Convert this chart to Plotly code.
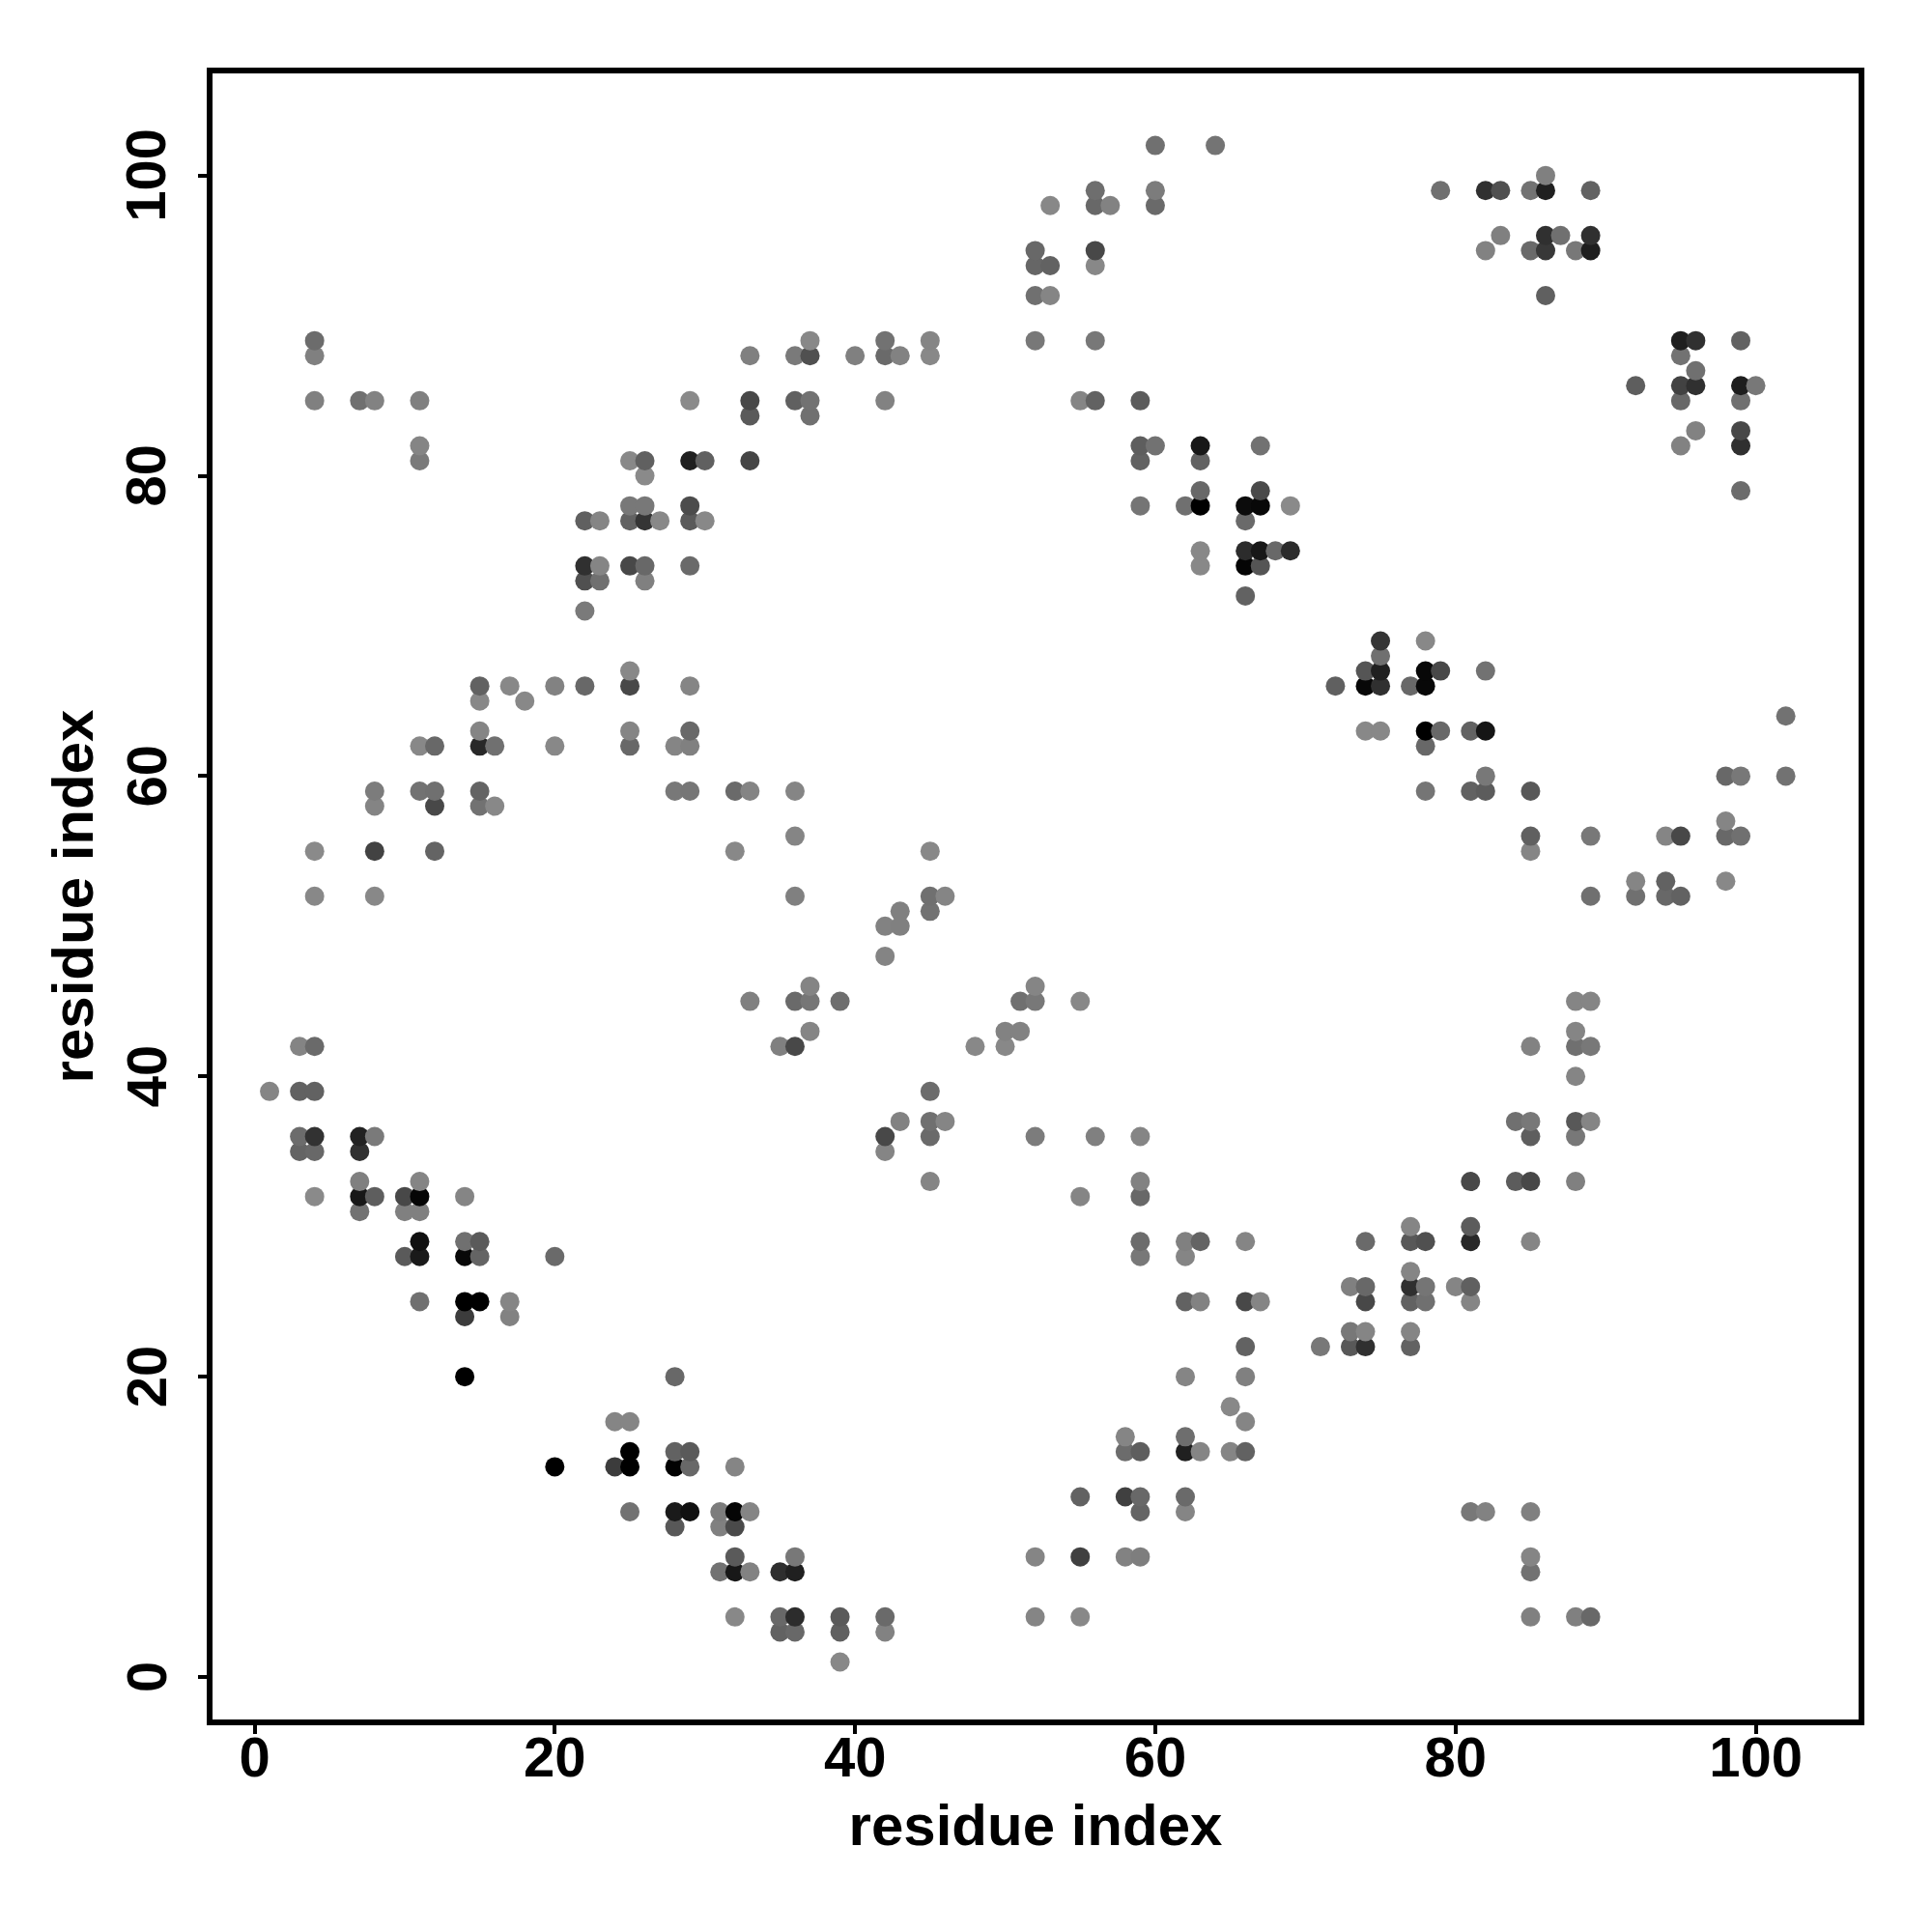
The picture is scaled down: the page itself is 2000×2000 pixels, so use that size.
import plotly.graph_objects as go

# Contact map values
i_upper_left = [4,4,4,7,8,11,11,11,
 22,23,25,26,27,25,26,29,
 29,30,25,26,26,29,30,29,
 33,33,33,33,22,23,22,23,
 25,26,26,29,22]
j_upper_left = [89,88,85,85,85,85,82,81,
 77,77,77,77,77,78,78,78,
 77,77,81,81,80,81,81,85,
 88,85,84,81,74,74,73,73,
 74,74,73,74,71]
g_upper_left = [0x6c,0x80,0x80,0x70,0x82,0x80,0x85,0x7a,
 0x60,0x85,0x62,0x35,0x88,0x78,0x78,0x4c,
 0x5a,0x88,0x88,0x60,0x8a,0x20,0x60,0x8a,
 0x80,0x48,0x5a,0x45,0x30,0x85,0x50,0x70,
 0x48,0x68,0x80,0x6a,0x7a]

i_upper_mid = [60,64,56,56,57,53,60,60,
 52,52,53,56,56,52,53,52,
 56,37,36,37,40,42,42,43,
 45,45,36,37,37,42,55,56,
 59,59,60,59,63,63,67,63,
 67,59,62,63,66,67,69,66,
 63,63,66,67,68,69,66,67,
 66]
j_upper_mid = [102,102,99,98,98,98,99,98,
 95,94,94,95,94,92,92,89,
 89,89,88,88,88,89,88,88,
 89,88,85,85,84,85,85,85,
 85,82,82,81,82,81,82,79,
 79,78,78,78,78,78,78,77,
 75,74,75,75,75,75,74,74,
 72]
g_upper_mid = [0x70,0x74,0x6e,0x68,0x82,0x88,0x7c,0x6a,
 0x68,0x66,0x62,0x48,0x88,0x70,0x85,0x78,
 0x78,0x88,0x7a,0x50,0x80,0x72,0x6a,0x82,
 0x85,0x88,0x60,0x72,0x70,0x82,0x85,0x62,
 0x5c,0x5e,0x72,0x62,0x18,0x62,0x72,0x68,
 0x4a,0x75,0x70,0x00,0x0c,0x08,0x8a,0x6a,
 0x88,0x88,0x2c,0x18,0x68,0x2c,0x05,0x55,
 0x62]

i_upper_right = [79,82,83,85,86,86,89,83,
 82,86,87,89,85,86,88,89,
 86,95,96,99,95,96,92,95,
 96,99,100,95,99,96,95,99,
 99,99]
j_upper_right = [99,99,99,99,99,100,99,96,
 95,96,96,96,95,95,95,95,
 92,89,89,89,88,87,86,86,
 86,86,86,85,85,83,82,83,
 82,79]
g_upper_right = [0x70,0x30,0x50,0x72,0x20,0x80,0x62,0x80,
 0x82,0x30,0x70,0x30,0x6a,0x38,0x78,0x1e,
 0x60,0x1e,0x30,0x62,0x72,0x70,0x5e,0x42,
 0x30,0x1e,0x78,0x68,0x70,0x82,0x82,0x48,
 0x30,0x6c]

i_mid_left = [15,15,17,18,20,22,25,25,
 29,15,11,12,15,16,20,25,
 25,28,29,29,8,8,11,12,
 12,15,15,16,28,29,32,33,
 4,8,12,32,4,8,33,3,
 4,35,1,3,4,3,4,7,
 8,3,4,7]
j_mid_left = [66,65,66,65,66,66,67,66,
 66,63,62,62,62,62,62,63,
 62,62,62,63,59,58,59,59,
 58,59,58,58,59,59,59,59,
 55,55,55,55,52,52,45,42,
 42,42,39,39,39,36,36,36,
 36,35,35,35]
g_mid_left = [0x62,0x88,0x88,0x88,0x82,0x68,0x88,0x48,
 0x85,0x85,0x88,0x68,0x28,0x70,0x88,0x85,
 0x68,0x85,0x80,0x68,0x7c,0x84,0x72,0x70,
 0x48,0x64,0x72,0x88,0x78,0x76,0x6a,0x84,
 0x8a,0x42,0x64,0x88,0x88,0x88,0x80,0x84,
 0x6a,0x80,0x85,0x62,0x62,0x6c,0x32,0x22,
 0x7a,0x64,0x68,0x30]

i_mid_mid = [36,36,45,36,45,46,45,43,
 42,43,42,37,36,37,39,37,
 36,48,50,51,50,52,51,52,
 55,45,43,45,46,42,42,45,
 52,56,59,45,59,59,55]
j_mid_mid = [59,56,55,52,52,52,51,51,
 50,50,48,46,45,45,45,43,
 42,42,43,43,42,46,45,45,
 45,39,37,37,37,36,35,36,
 36,36,36,33,33,32,32]
g_mid_mid = [0x85,0x85,0x88,0x80,0x70,0x85,0x72,0x80,
 0x82,0x80,0x84,0x84,0x6a,0x76,0x6e,0x85,
 0x48,0x88,0x82,0x82,0x88,0x85,0x70,0x78,
 0x88,0x6c,0x82,0x70,0x85,0x48,0x85,0x6a,
 0x7c,0x80,0x85,0x85,0x82,0x68,0x85]

i_mid_right = [75,78,75,74,75,78,79,82,
 72,74,75,77,78,74,75,78,
 79,81,82,78,102,102,98,99,
 82,81,82,78,85,98,98,99,
 85,85,89,94,95,92,92,94,
 94,95,98,89,88,89,88,85,
 88,89,88,84,85,85,88,89,
 88,81,84,85,88]
j_mid_right = [69,69,68,67,67,67,67,67,
 66,66,66,66,66,63,63,63,
 63,63,63,62,64,60,60,60,
 60,59,59,59,59,57,56,56,
 56,55,56,56,56,53,52,53,
 52,52,53,52,45,45,43,42,
 42,42,40,37,37,36,37,37,
 36,33,33,33,33]
g_mid_right = [0x35,0x88,0x70,0x55,0x20,0x08,0x48,0x72,
 0x60,0x08,0x30,0x68,0x08,0x88,0x88,0x00,
 0x68,0x62,0x15,0x68,0x72,0x72,0x68,0x78,
 0x78,0x62,0x5c,0x75,0x58,0x85,0x68,0x70,
 0x60,0x85,0x78,0x85,0x48,0x85,0x70,0x62,
 0x68,0x62,0x88,0x70,0x85,0x85,0x85,0x82,
 0x70,0x78,0x85,0x70,0x78,0x5e,0x58,0x85,
 0x78,0x48,0x5c,0x48,0x80]

i_lower_left = [7,11,4,7,8,10,11,14,
 7,10,11,11,10,11,14,15,
 14,15,20,11,14,15,17,14,
 17,14,28,24,25,25,24,25,
 20,28,29,28,29,32,25,28,
 29,31,32,33,28,31,32,32,
 31,32,33,35,32,35,35]
j_lower_left = [33,33,32,32,32,32,32,32,
 31,31,31,29,28,28,29,29,
 28,28,28,25,25,25,25,24,
 24,20,20,17,17,15,14,14,
 14,15,15,14,14,14,11,11,
 11,11,11,11,10,10,10,8,
 7,7,7,7,4,4,3]
g_lower_left = [0x80,0x85,0x8a,0x18,0x5e,0x48,0x05,0x85,
 0x72,0x80,0x80,0x10,0x5a,0x1a,0x70,0x5a,
 0x08,0x64,0x6a,0x70,0x00,0x00,0x85,0x3c,
 0x82,0x00,0x68,0x85,0x85,0x00,0x3c,0x00,
 0x00,0x62,0x5a,0x02,0x68,0x85,0x72,0x1a,
 0x10,0x7c,0x05,0x85,0x58,0x80,0x4a,0x5a,
 0x72,0x18,0x82,0x2e,0x88,0x68,0x62]

i_lower_mid = [62,63,62,66,59,59,62,63,
 66,67,66,71,73,73,73,62,
 66,65,66,58,58,59,62,62,
 63,65,66,55,58,59,59,62,
 62,36,36,52,55,58,59,36,
 36,39,39,42,42,39,52,55]
j_lower_mid = [29,29,28,29,29,28,25,25,
 25,25,22,22,23,22,26,20,
 20,18,17,16,15,15,16,15,
 15,15,15,12,12,12,11,12,
 11,8,7,8,8,8,8,4,
 3,4,3,4,3,1,4,4]
g_lower_mid = [0x80,0x64,0x85,0x85,0x6c,0x78,0x62,0x82,
 0x48,0x85,0x62,0x78,0x78,0x58,0x80,0x85,
 0x80,0x88,0x85,0x85,0x6c,0x5e,0x6e,0x20,
 0x85,0x85,0x62,0x62,0x40,0x68,0x64,0x6a,
 0x85,0x78,0x20,0x85,0x40,0x82,0x7e,0x2c,
 0x68,0x5a,0x60,0x6a,0x82,0x88,0x85,0x88]

i_lower_right = [77,74,77,78,81,81,85,77,
 74,74,77,78,77,78,80,81,
 81,74,77,74,77,81,82,85,
 85,85,85,88,89]
j_lower_right = [30,29,29,29,30,29,29,27,
 26,25,26,26,25,25,26,26,
 25,23,23,22,22,11,11,11,
 8,7,4,4,4]
g_lower_right = [0x85,0x6a,0x58,0x50,0x5c,0x28,0x85,0x85,
 0x68,0x48,0x30,0x75,0x62,0x70,0x85,0x60,
 0x85,0x85,0x85,0x30,0x62,0x78,0x82,0x80,
 0x85,0x72,0x80,0x80,0x68]

x_ticks = [0, 20, 40, 60, 80, 100]
y_ticks = [0, 20, 40, 60, 80, 100]
axis_title = "residue index"

residue_i = (i_upper_left + i_upper_mid + i_upper_right + i_mid_left + i_mid_mid
             + i_mid_right + i_lower_left + i_lower_mid + i_lower_right)
residue_j = (j_upper_left + j_upper_mid + j_upper_right + j_mid_left + j_mid_mid
             + j_mid_right + j_lower_left + j_lower_mid + j_lower_right)
gray_level = (g_upper_left + g_upper_mid + g_upper_right + g_mid_left + g_mid_mid
              + g_mid_right + g_lower_left + g_lower_mid + g_lower_right)
assert len(residue_i) == len(residue_j) == len(gray_level)

order = sorted(range(len(residue_i)), key=lambda k: (residue_i[k], residue_j[k]))

fig = go.Figure(go.Scatter(
    x=[residue_i[k] for k in order],
    y=[residue_j[k] for k in order],
    mode="markers",
    marker=dict(
        size=20,
        line=dict(width=0),
        color=[f"rgb({gray_level[k]},{gray_level[k]},{gray_level[k]})" for k in order],
    ),
))

tick_font = dict(family="Liberation Sans", size=58, color="black", weight="bold")
title_font = dict(family="Liberation Sans", size=60, color="black", weight="bold")
axis = dict(
    showgrid=False, zeroline=False, showline=True, mirror=True,
    linecolor="black", linewidth=6,
    ticks="outside", ticklen=9, tickwidth=3.5, tickcolor="black",
    tickfont=tick_font, tickmode="array",
)

fig.update_layout(
    width=1992, height=1992, autosize=False,
    margin=dict(l=212, r=76, t=68, b=220),
    paper_bgcolor="white", plot_bgcolor="white",
    showlegend=False,
    xaxis=dict(axis, range=[-2.8, 106.85], tickvals=x_ticks, ticklabelstandoff=-26,
               title=dict(text=axis_title, standoff=20, font=title_font)),
    yaxis=dict(axis, range=[-2.83, 106.8], tickvals=y_ticks, showticklabels=False,
               title=dict(text=axis_title, standoff=91, font=title_font)),
    annotations=[
        dict(text=str(v), xref="paper", yref="y", x=0, y=v, xshift=-69,
             textangle=-90, showarrow=False, xanchor="center", yanchor="middle",
             font=tick_font)
        for v in y_ticks
    ],
)

fig.write_html("out.html")
